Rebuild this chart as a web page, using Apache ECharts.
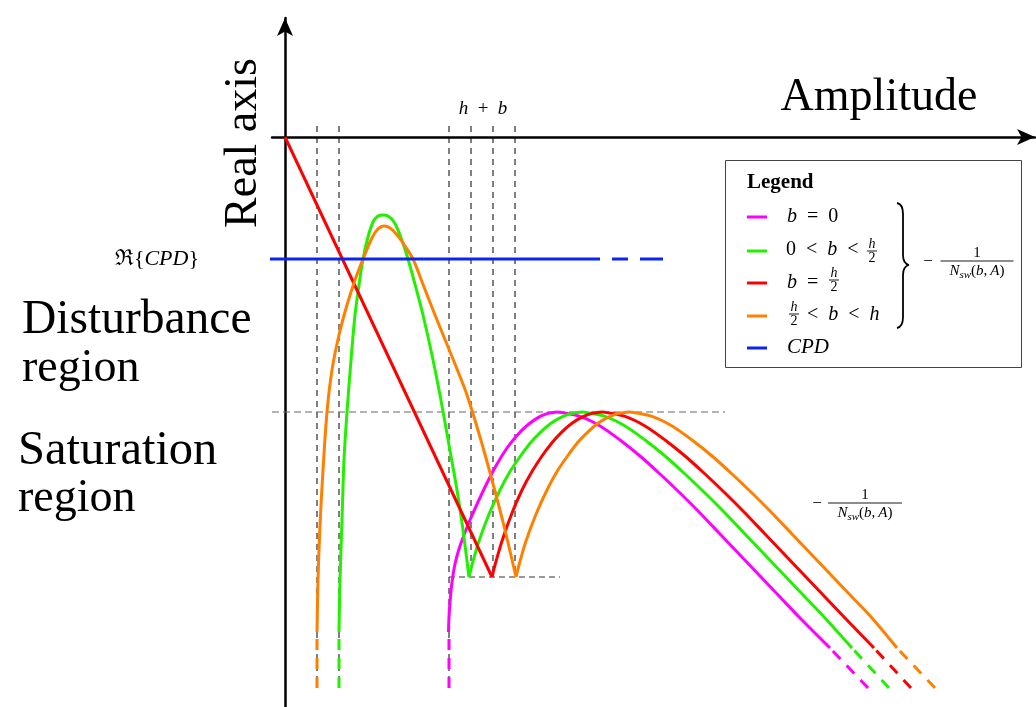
<!DOCTYPE html>
<html>
<head>
<meta charset="utf-8">
<script src="https://cdn.jsdelivr.net/npm/echarts@6/dist/echarts.min.js"></script>
<style>
  html, body { margin: 0; padding: 0; background: #fff; }
  #chart { width: 1036px; height: 707px; }
</style>
</head>
<body>
<div id="chart"></div>
<script>
// Describing-function sketch: -1/Nsw(b,A) loci for a relay with hysteresis/dead zone,
// plotted against the CPD level. x = amplitude, y = real part (origin where the axes cross).

// b = 0
const b0Rise = [[163.5,-495],[164,-480],[165,-465],[167,-445],[170,-427],[174,-412],[179,-398],[185,-383],[193,-365],[202,-346],[212,-327],
                [222,-311],[232,-298.5],[242,-288.5],[253,-280.6],[263,-276.4],[273,-275]];
const b0Fall = [[273,-275],[295,-279.4],[315,-289],[335,-303],[355,-319],[375,-337],[395,-356],[415,-376],[435,-397],[455,-418],[475,-439],
                [495,-460],[515,-481],[545,-511]];
const b0Tail = [[583,-551],[545,-511]];
const b0Stub = [[164,-551],[164,-495]];

// 0 < b < h/2
const bLowArc1 = [[54,-495],[55,-443],[57,-383],[59,-323],[62,-275],[66,-223],[70,-178],[74,-148],[78,-122],[83,-100],[88,-85],[93,-79],[98,-78],
                  [103,-79],[109,-85],[115,-98],[123,-122],[131,-151],[138,-178],[147,-218],[155,-258],[164,-308],[172,-353],[178,-393],[184,-440]];
const bLowRise = [[184,-440],[187,-428],[194,-404],[204.5,-376],[215,-353],[225,-334.5],[235.5,-319],[245.5,-305.7],[256,-294.8],[266,-286.3],
                  [276.5,-280.2],[286.7,-276.4],[298,-275]];
const bLowFall = [[298,-275],[320,-279.4],[340,-289],[360,-303],[380,-319],[400,-337],[420,-356],[440,-376],[460,-397],[480,-418],[500,-439],
                  [520,-460],[540,-481],[567,-511]];
const bLowTail = [[604,-551],[567,-511]];
const bLowStub = [[54,-551],[54,-495]];

// b = h/2
const bHalfLine = [[0,0],[207,-440]];
const bHalfRise = [[207,-440],[210,-428],[217,-404],[227,-376],[237,-353],[247,-334.5],[257,-319],[267,-305.7],[277,-294.8],[287,-286.3],
                   [297,-280.2],[307,-276.4],[318,-275]];
const bHalfFall = [[318,-275],[340,-279.4],[360,-289],[380,-303],[400,-319],[420,-337],[440,-356],[460,-376],[480,-397],[500,-418],[520,-439],
                   [540,-460],[560,-481],[589,-511]];
const bHalfTail = [[626,-551],[589,-511]];

// h/2 < b < h
const bHighArc1 = [[32,-495],[33,-443],[35,-388],[38,-333],[42,-275],[47,-233],[54,-198],[62,-168],[70,-143],[78,-122],[86,-103],[92,-93],[99,-89],
                   [105,-91],[113,-99],[120,-109],[128,-122],[139,-150],[150,-178],[161,-205],[172,-232],[182,-258],[195,-300],[207,-343],[219,-389],[231,-440]];
const bHighRise = [[231,-440],[234,-428],[241,-404],[251.5,-376],[262,-353],[272,-334.5],[282.5,-319],[292.5,-305.7],[303,-294.8],[313,-286.3],
                   [323.5,-280.2],[333.7,-276.4],[345,-275]];
const bHighFall = [[345,-275],[367,-279.4],[387,-289],[407,-303],[427,-319],[447,-337],[467,-356],[487,-376],[507,-397],[527,-418],[547,-439],
                   [567,-460],[587,-481],[612,-511]];
const bHighTail = [[650,-551],[612,-511]];
const bHighStub = [[32,-551],[32,-495]];

// CPD level
const cpdSolid = [[-22,-122],[315,-122]];
const cpdDashL = [[-78,-122],[-28,-122]];
const cpdDashR = [[327,-122],[378,-122]];

// construction lines
const guideLong  = [32, 54, 164];
const guideShort = [186, 208, 230];
const guideTop = 11, guideBottomLong = -551, guideBottomShort = -440;
const saturationLevel = [[-277,-275],[440,-275]];
const cuspLevel = [[164,-440],[275,-440]];

const colB0 = '#ff00ff', colLow = '#22f000', colHalf = '#ff0000', colHigh = '#ff8000', colCPD = '#0a24f5';

const F = '"Liberation Serif","DejaVu Serif",serif';

function line(data, color, width, extra) {
  return Object.assign({
    type: 'line', data: data, symbol: 'none', clip: false, silent: true,
    lineStyle: { color: color, width: width, type: 'solid', cap: 'butt', join: 'round' }
  }, extra || {});
}
function curve(data, color) {
  return line(data, color, 3, { smooth: 0.3 });
}
function dashed(data, color, width, pattern) {
  return line(data, color, width, { lineStyle: { color: color, width: width, type: pattern, cap: 'butt' } });
}

function rich(size) {
  const lh = Math.round(size * 1.25);
  const ss = Math.round(size * 0.72);
  return {
    n: { fontFamily: F, fontSize: size, fill: '#000', lineHeight: lh },
    i: { fontFamily: F, fontSize: size, fontStyle: 'italic', fill: '#000', lineHeight: lh },
    s: { fontFamily: F, fontSize: ss, fontStyle: 'italic', fill: '#000', lineHeight: ss, verticalAlign: 'bottom' }
  };
}
function label(x, y, text, size, align, extra) {
  return Object.assign({
    type: 'text', x: x, y: y, silent: true, z: 10,
    style: {
      text: text, fontFamily: F, fontSize: size, fill: '#000',
      align: align || 'left', verticalAlign: 'middle', rich: rich(size)
    }
  }, extra || {});
}
function seg(x1, y1, x2, y2, color, w) {
  return { type: 'line', silent: true, z: 10, shape: { x1: x1, y1: y1, x2: x2, y2: y2 }, style: { stroke: color, lineWidth: w } };
}
function curl(x1, y1, c1x, c1y, c2x, c2y, x2, y2) {
  return { type: 'bezierCurve', silent: true, z: 10,
    shape: { x1: x1, y1: y1, cpx1: c1x, cpy1: c1y, cpx2: c2x, cpy2: c2y, x2: x2, y2: y2 },
    style: { stroke: '#000', lineWidth: 1.8, fill: null } };
}
function frac(cx, yBar, num, den, size, barW, up, down) {
  return [
    label(cx, yBar - up, num, size, 'center'),
    seg(cx - barW / 2, yBar, cx + barW / 2, yBar, '#000', 0.9),
    label(cx, yBar + down, den, size, 'center')
  ];
}
const nsw = '{i|N}{s|sw}{n|(}{i|b}{n|,\u2009}{i|A}{n|)}';
const S = '\u2002';   // relation spacing

const legendRows = [
  { color: colB0,   y: 217 },
  { color: colLow,  y: 251 },
  { color: colHalf, y: 283 },
  { color: colHigh, y: 316 },
  { color: colCPD,  y: 348 }
];

const graphics = [
  label(879, 98, 'Amplitude', 46, 'center'),
  label(244, 143, 'Real axis', 46, 'center', { rotation: Math.PI / 2 }),
  label(22, 321, 'Disturbance', 47.5),
  label(22, 369, 'region', 46),
  label(18, 451, 'Saturation', 48.5),
  label(18, 499, 'region', 46),
  label(483, 109, '{i|h}{n|' + S + '+' + S + '}{i|b}', 19, 'center'),
  label(199, 259, 'ℜ{{i|CPD}}', 22, 'right'),
  // legend box
  { type: 'rect', silent: true, z: 9, shape: { x: 725.5, y: 160.5, width: 296, height: 207 }, style: { fill: '#fff', stroke: '#444', lineWidth: 1 } },
  { type: 'text', x: 747, y: 183, silent: true, z: 10,
    style: { text: 'Legend', fontFamily: F, fontSize: 21, fontWeight: 'bold', fill: '#000', align: 'left', verticalAlign: 'middle' } },
  label(787, 217, '{i|b}{n|' + S + '=' + S + '0}', 20),
  label(786, 250, '{n|0' + S + '<' + S + '}{i|b}{n|' + S + '<}', 20),
  label(787, 283, '{i|b}{n|' + S + '=}', 20),
  label(807, 315, '{n|<' + S + '}{i|b}{n|' + S + '<' + S + '}{i|h}', 20),
  label(787, 347, '{i|CPD}', 21),
  // brace grouping the four loci
  curl(897, 203, 902, 204, 903, 208, 903, 214),
  seg(903, 214, 903, 255, '#000', 1.8),
  curl(903, 255, 903, 261, 905, 264, 909, 265),
  curl(909, 265, 905, 266, 903, 269, 903, 275),
  seg(903, 275, 903, 317, '#000', 1.8),
  curl(903, 317, 903, 323, 902, 327, 897, 328),
  label(928, 262, '−', 17, 'center'),
  label(817, 504, '−', 17, 'center')
].concat(
  frac(872, 251, '{i|h}', '{n|2}', 14, 10, 6.5, 7),
  frac(834, 280, '{i|h}', '{n|2}', 14, 10, 6.5, 7),
  frac(794, 314, '{i|h}', '{n|2}', 14, 10, 6.5, 7),
  frac(977, 261, '{n|1}', nsw, 15, 73, 8, 10),
  frac(865, 503, '{n|1}', nsw, 15, 74, 8, 10),
  legendRows.map(function (r) { return seg(747, r.y, 767, r.y, r.color, 3); })
);

const series = [];
guideLong.forEach(function (x) { series.push(dashed([[x, guideTop], [x, guideBottomLong]], '#000', 1, [6, 5])); });
guideShort.forEach(function (x) { series.push(dashed([[x, guideTop], [x, guideBottomShort]], '#000', 1, [6, 5])); });
series.push(dashed(saturationLevel, '#666', 1, [7, 4]));
series.push(dashed(cuspLevel, '#333', 1, [6, 4]));

series.push(curve(b0Rise, colB0));
series.push(curve(b0Fall, colB0));
series.push(dashed(b0Tail, colB0, 3, [11, 9]));
series.push(dashed(b0Stub, colB0, 3, [11, 8]));

series.push(curve(bLowArc1, colLow));
series.push(curve(bLowRise, colLow));
series.push(curve(bLowFall, colLow));
series.push(dashed(bLowTail, colLow, 3, [11, 9]));
series.push(dashed(bLowStub, colLow, 3, [11, 8]));

series.push(line(bHalfLine, colHalf, 3));
series.push(curve(bHalfRise, colHalf));
series.push(curve(bHalfFall, colHalf));
series.push(dashed(bHalfTail, colHalf, 3, [11, 9]));

series.push(curve(bHighArc1, colHigh));
series.push(curve(bHighRise, colHigh));
series.push(curve(bHighFall, colHigh));
series.push(dashed(bHighTail, colHigh, 3, [11, 9]));
series.push(dashed(bHighStub, colHigh, 3, [11, 8]));

series.push(line(cpdSolid, colCPD, 3));
series.push(dashed(cpdDashL, colCPD, 3, [11, 9]));
series.push(dashed(cpdDashR, colCPD, 3, [16, 12, 24, 60]));

const axisCommon = {
  type: 'value',
  axisLine: { show: true, onZero: true, symbol: ['none', 'arrow'], symbolSize: [12, 18], lineStyle: { color: '#000', width: 2.5 } },
  axisTick: { show: false },
  axisLabel: { show: false },
  splitLine: { show: false }
};

const chart = echarts.init(document.getElementById('chart'), null, { renderer: 'canvas' });
chart.setOption({
  animation: false,
  backgroundColor: '#fff',
  grid: { left: 272, right: 1, top: 18, bottom: 0, containLabel: false },
  xAxis: Object.assign({}, axisCommon, { min: -13, max: 750 }),
  yAxis: Object.assign({}, axisCommon, { min: -570, max: 119 }),
  graphic: graphics,
  series: series
});
</script>
</body>
</html>
